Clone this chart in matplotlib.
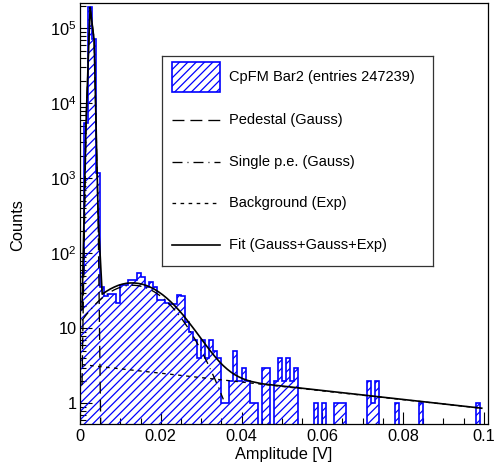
import numpy as np
import matplotlib
matplotlib.use("Agg")
import matplotlib.pyplot as plt
from matplotlib.lines import Line2D
from matplotlib.patches import Rectangle
from matplotlib.ticker import FixedLocator, FuncFormatter, LogLocator, MultipleLocator, NullFormatter

plt.rcParams['font.family'] = ['Liberation Sans', 'DejaVu Sans']
plt.rcParams['mathtext.fontset'] = 'custom'
plt.rcParams['mathtext.rm'] = 'Liberation Sans'
plt.rcParams['hatch.linewidth'] = 0.9
plt.rcParams['lines.scale_dashes'] = False

# ---------------- data ----------------
bin_lo = 0.0
bin_hi = 0.1
counts = [55, 5400, 190000, 71000, 1170, 35, 27, 29, 29, 22,
          38, 38, 44, 44, 54, 48, 36, 41, 36, 24,
          24, 22, 21, 21, 28, 27, 12, 9, 7, 4,
          7, 4, 7, 5, 4, 1, 1, 2, 5, 2,
          3, 2, 1, 1, 0, 3, 3, 0, 2, 4,
          2, 4, 2, 3, 0, 0, 0, 0, 1, 0,
          1, 0, 0, 1, 1, 1, 0, 0, 0, 0,
          0, 2, 1, 2, 0, 0, 0, 0, 1, 0,
          0, 0, 0, 0, 1, 0, 0, 0, 0, 0,
          0, 0, 0, 0, 0, 0, 0, 0, 1, 0]

# fit components, values read at bin centres
ped_x = [0.0005, 0.0015, 0.0025, 0.0035, 0.0045, 0.0055]
ped_y = [1.75, 5560, 190000, 70000, 279, 0.012]

spe_x = [0.0005 + 0.001 * i for i in range(36)]
spe_y = [12.72, 15.02, 17.49, 20.08, 22.75, 25.41, 27.99, 30.42, 32.60, 34.45,
         35.91, 36.92, 37.44, 37.44, 36.92, 35.91, 34.45, 32.60, 30.42, 27.99,
         25.41, 22.75, 20.08, 17.49, 15.02, 12.72, 10.62, 8.75, 7.11, 5.70,
         4.50, 3.51, 2.70, 2.05, 1.53, 1.13]

bkg_x = [0.0005, 0.0995]
bkg_y = [3.28, 0.86]

fit_x = [0.0005 + 0.001 * i for i in range(46)] + [0.0995]
fit_y = [17.75, 5578, 190000, 70000, 305, 28.5, 31.0, 33.4, 35.5, 37.4,
         38.8, 39.8, 40.2, 40.2, 39.6, 38.6, 37.1, 35.2, 33.0, 30.5,
         27.9, 25.2, 22.5, 19.9, 17.4, 15.1, 12.9, 11.0, 9.36, 7.92,
         6.69, 5.67, 4.83, 4.15, 3.60, 3.17, 2.84, 2.58, 2.38, 2.23,
         2.11, 2.02, 1.95, 1.90, 1.85, 1.81, 0.861]

legend_labels = ["CpFM Bar2 (entries 247239)", "Pedestal (Gauss)",
                 "Single p.e. (Gauss)", "Background (Exp)",
                 "Fit (Gauss+Gauss+Exp)"]

# ---------------- styles ----------------
W, H = 496, 468
hist_color = (0, 0, 1)
ped_dash = (0, (8.6, 4.3))
spe_dash = (0, (7.2, 3.6, 0.7, 3.6))
bkg_dash = (0, (2.6, 3.2))
lw_fit = 0.95
axis_fs = 11.8
legend_fs = 10.5

fig = plt.figure(figsize=(W / 100, H / 100), dpi=100)
ax = fig.add_axes([80 / W, 1 - 424 / H, 408 / W, 421 / H])

edges = np.linspace(bin_lo, bin_hi, len(counts) + 1)
vals = np.array(counts, dtype=float)
plot_vals = np.where(vals > 0, vals, 1e-3)
ax.stairs(plot_vals, edges, baseline=1e-3, fill=True, facecolor='none',
          edgecolor=hist_color, hatch='////', linewidth=1.2, zorder=2)

ax.plot(ped_x, ped_y, color='black', lw=lw_fit, linestyle=ped_dash, zorder=3)
ax.plot(spe_x, spe_y, color='black', lw=lw_fit, linestyle=spe_dash, zorder=3)
ax.plot(bkg_x, bkg_y, color='black', lw=lw_fit, linestyle=bkg_dash, zorder=3)
ax.plot(fit_x, fit_y, color='black', lw=1.2, linestyle='-', zorder=4)

ax.set_yscale('log')
ax.set_xlim(0, 0.10105)
ax.set_ylim(0.53, 2.17e5)

ax.xaxis.set_major_locator(FixedLocator([0, 0.02, 0.04, 0.06, 0.08, 0.1]))
ax.xaxis.set_minor_locator(MultipleLocator(0.005))
ax.xaxis.set_major_formatter(FuncFormatter(lambda v, p: '0' if abs(v) < 1e-12 else ('%g' % v)))

def yfmt(v, p):
    n = int(round(np.log10(v)))
    if n == 0:
        return '1'
    if n == 1:
        return '10'
    return r'$\mathdefault{10^{%d}}$' % n

ax.yaxis.set_major_locator(LogLocator(base=10, numticks=20))
ax.yaxis.set_minor_locator(LogLocator(base=10, subs=np.arange(2, 10), numticks=20))
ax.yaxis.set_major_formatter(FuncFormatter(yfmt))
ax.yaxis.set_minor_formatter(NullFormatter())

ax.tick_params(axis='both', which='both', direction='in', top=False, right=False,
               labelsize=axis_fs, width=0.8, color='black')
ax.tick_params(axis='both', which='major', length=8.6)
ax.tick_params(axis='both', which='minor', length=4.3)
ax.tick_params(axis='x', which='major', pad=3.5)
ax.tick_params(axis='y', which='major', pad=2.5)
for s in ax.spines.values():
    s.set_linewidth(0.9)
    s.set_color('black')

fig.text(284 / W, 1 - 454 / H, 'Amplitude [V]', ha='center', va='center', fontsize=axis_fs)
fig.text(18 / W, 1 - 225 / H, 'Counts', ha='center', va='center', rotation=90, fontsize=axis_fs)

# ---------------- legend box ----------------
lx0, lx1, ly0, ly1 = 161.7, 433.0, 55.7, 265.5
leg = fig.add_axes([lx0 / W, 1 - ly1 / H, (lx1 - lx0) / W, (ly1 - ly0) / H])
leg.set_xlim(lx0, lx1)
leg.set_ylim(ly1, ly0)
leg.set_xticks([])
leg.set_yticks([])
leg.patch.set_facecolor('white')
for s in leg.spines.values():
    s.set_linewidth(0.9)
    s.set_color('#333333')

sym_x0, sym_x1, text_x = 172, 220, 229.3
rows = [76.7, 120.0, 161.7, 203.0, 245.0]
leg.add_patch(Rectangle((sym_x0, 61.7), sym_x1 - sym_x0, 30, facecolor='none',
                        edgecolor=hist_color, hatch='////', linewidth=1.2))
styles = [ped_dash, spe_dash, bkg_dash, '-']
for r, st in zip(rows[1:], styles):
    leg.add_line(Line2D([sym_x0, sym_x1], [r, r], color='black',
                        lw=(1.2 if st == '-' else lw_fit), linestyle=st))
for r, lab in zip(rows, legend_labels):
    leg.text(text_x, r, lab, ha='left', va='center', fontsize=legend_fs)

fig.savefig('out.png', dpi=100)
